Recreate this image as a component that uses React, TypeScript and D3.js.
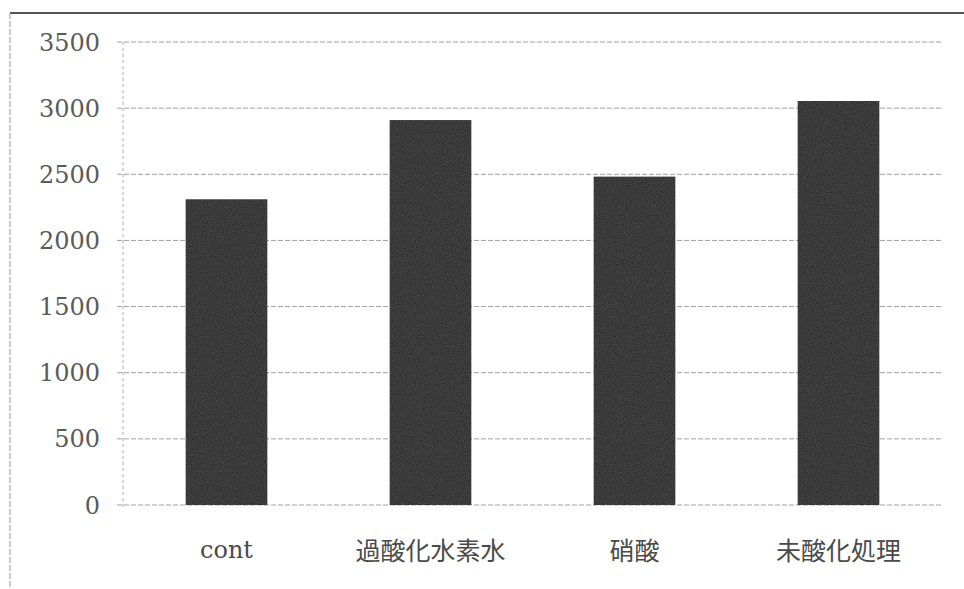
import React from "react";
import * as d3 from "d3";

const categories = ["cont", "過酸化水素水", "硝酸", "未酸化処理"];
const values = [2311, 2910, 2482, 3054];
const yTicks = [0, 500, 1000, 1500, 2000, 2500, 3000, 3500];

const W = 964;
const H = 589;

export default function App() {
  const x = d3.scaleBand<string>().domain(categories).range([124.5, 940.5]).paddingInner(0.6).paddingOuter(0.3);
  const y = d3.scaleLinear().domain([0, 3500]).range([505, 42]);
  const bw = x.bandwidth();

  return (
    <svg width={W} height={H} style={{ position: "absolute", left: 0, top: 0, background: "#fff" }}>
      <defs>
        <filter id="grain" x="0" y="0" width="100%" height="100%">
          <feTurbulence type="fractalNoise" baseFrequency="0.9" numOctaves="2" seed="3" result="n" />
          <feColorMatrix in="n" type="matrix" values="0 0 0 0 0.25  0 0 0 0 0.25  0 0 0 0 0.25  0 0 0 0.25 0" result="c" />
          <feComposite in="c" in2="SourceGraphic" operator="in" result="m" />
          <feMerge>
            <feMergeNode in="SourceGraphic" />
            <feMergeNode in="m" />
          </feMerge>
        </filter>
      </defs>
      {/* outer border */}
      <line x1={10} y1={13} x2={964} y2={13} stroke="#555" strokeWidth={2} />
      <line x1={10} y1={13} x2={10} y2={589} stroke="#999" strokeWidth={1} strokeDasharray="6,2" />

      {/* gridlines */}
      {yTicks.map((t) => (
        <g key={t}>
          <line x1={117} x2={942} y1={y(t)} y2={y(t)} stroke="#a0a0a0" strokeWidth={1} strokeDasharray="5,2" />
          <text
            x={100}
            y={y(t)}
            dy="0.36em"
            textAnchor="end"
            fontFamily="'DejaVu Serif', 'Liberation Serif', serif"
            fontSize={24}
            fill="#5a5a5a"
          >
            {t}
          </text>
        </g>
      ))}
      {/* y axis */}
      <line x1={123} x2={123} y1={y(3500)} y2={y(0) + 4} stroke="#aaa" strokeWidth={1} strokeDasharray="3,3" />

      {/* bars */}
      {categories.map((c, i) => (
        <rect
          key={c}
          x={x(c)}
          y={y(values[i])}
          width={bw}
          height={y(0) - y(values[i])}
          fill="#242424"
          filter="url(#grain)"
        />
      ))}

      {/* category labels */}
      {categories.map((c, i) => (
        <text
          key={c}
          x={(x(c) as number) + bw / 2}
          y={i === 0 ? 558 : 560}
          textAnchor="middle"
          fontFamily={i === 0 ? "'DejaVu Serif', serif" : "'Noto Sans CJK JP', sans-serif"}
          fontSize={i === 0 ? 24 : 25}
          fill="#4a4a4a"
        >
          {c}
        </text>
      ))}
    </svg>
  );
}
